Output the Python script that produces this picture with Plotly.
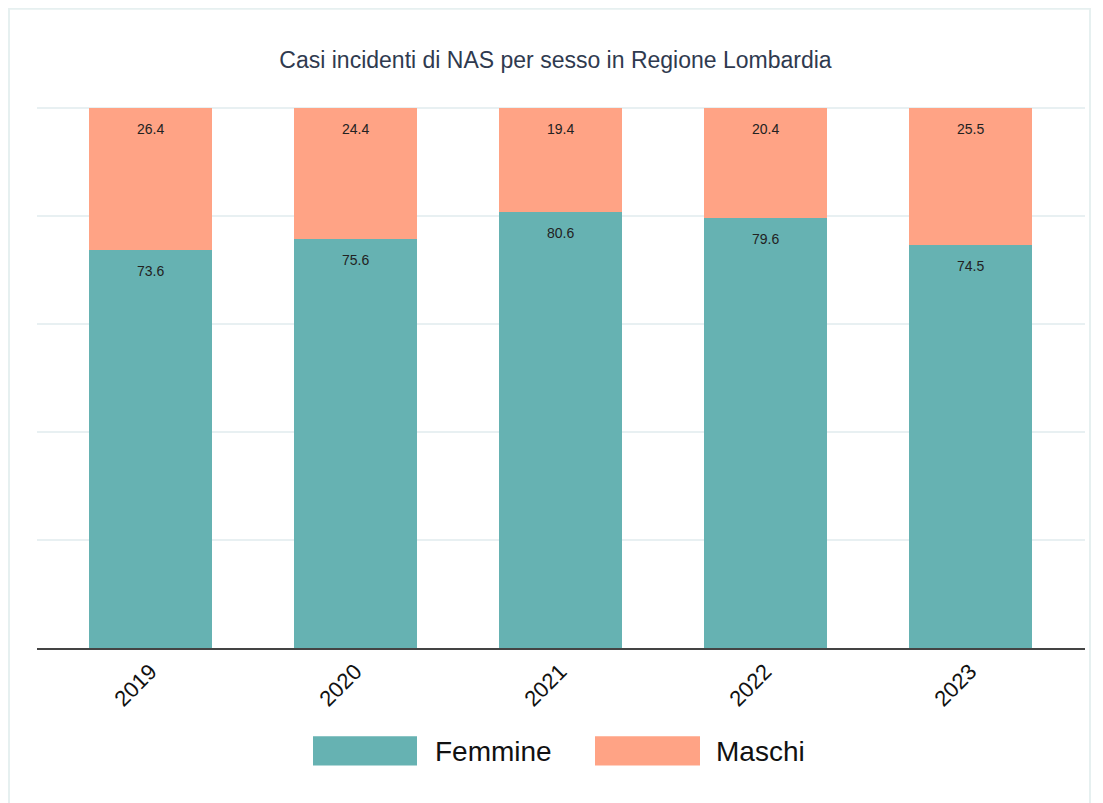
import plotly.graph_objects as go

years = ["2019", "2020", "2021", "2022", "2023"]
femmine = [73.6, 75.6, 80.6, 79.6, 74.5]
maschi = [26.4, 24.4, 19.4, 20.4, 25.5]
series_names = ["Femmine", "Maschi"]
colors = ["#66B2B2", "#FFA385"]
title = "Casi incidenti di NAS per sesso in Regione Lombardia"

FONT = "Liberation Sans, Arial"

fig = go.Figure()
series = [femmine, maschi]
for name, vals, col in zip(series_names, series, colors):
    fig.add_trace(go.Bar(x=years, y=vals, name=name, marker=dict(color=col, line=dict(width=0)),
                         showlegend=False, hoverinfo="x+y+name"))

# value labels near the top of each segment
annotations = []
cum = [0] * len(years)
for vals in series:
    for i, v in enumerate(vals):
        cum[i] += v
        annotations.append(dict(x=i, y=cum[i], xref="x", yref="y", text=f"{v:.1f}",
                                showarrow=False, yanchor="middle", yshift=-21,
                                font=dict(size=14, color="#222", family=FONT)))

# manual legend with large swatches (screen coords -> paper)
W, H = 1048.0, 540.0
def px(x):
    return (x - 37) / W
def py(y):
    return (648 - y) / H

shapes = []
legend_boxes = [(313, 417, 433), (595, 700, 714)]
for (x0, x1, tx), name, col in zip(legend_boxes, series_names, colors):
    shapes.append(dict(type="rect", xref="paper", yref="paper", x0=px(x0), x1=px(x1),
                       y0=py(765), y1=py(736), fillcolor=col, line=dict(width=0)))
    annotations.append(dict(x=px(tx), y=py(751), xref="paper", yref="paper", text=name,
                            showarrow=False, xanchor="left", yanchor="middle",
                            font=dict(size=28, color="#111", family=FONT)))

# outer border
shapes.append(dict(type="rect", xref="paper", yref="paper", x0=px(9), x1=px(1090),
                   y0=py(830), y1=py(11), line=dict(color="#E6F0F0", width=2), layer="below"))

fig.update_layout(
    barmode="stack",
    bargap=0.4,
    width=1095, height=795,
    margin=dict(l=29, r=18, t=98, b=155),
    paper_bgcolor="white", plot_bgcolor="white",
    title=dict(text=title, x=0.5, xanchor="center", y=1 - 52 / 795, yanchor="middle",
               font=dict(size=23, color="#2F3A4F", family=FONT)),
    annotations=annotations,
    shapes=shapes,
    showlegend=False,
    xaxis=dict(type="category", range=[-0.553, 4.56], tickangle=-45,
               tickfont=dict(size=22, color="#111", family=FONT),
               showline=True, linecolor="#444", linewidth=2, ticks="", showgrid=False,
               zeroline=False),
    yaxis=dict(range=[0, 100.3], tickvals=[0, 20, 40, 60, 80, 100], showticklabels=False,
               showgrid=True, gridcolor="#E8F0F2", gridwidth=2, zeroline=False, ticks=""),
    font=dict(family=FONT),
)

fig.write_html("out.html")
